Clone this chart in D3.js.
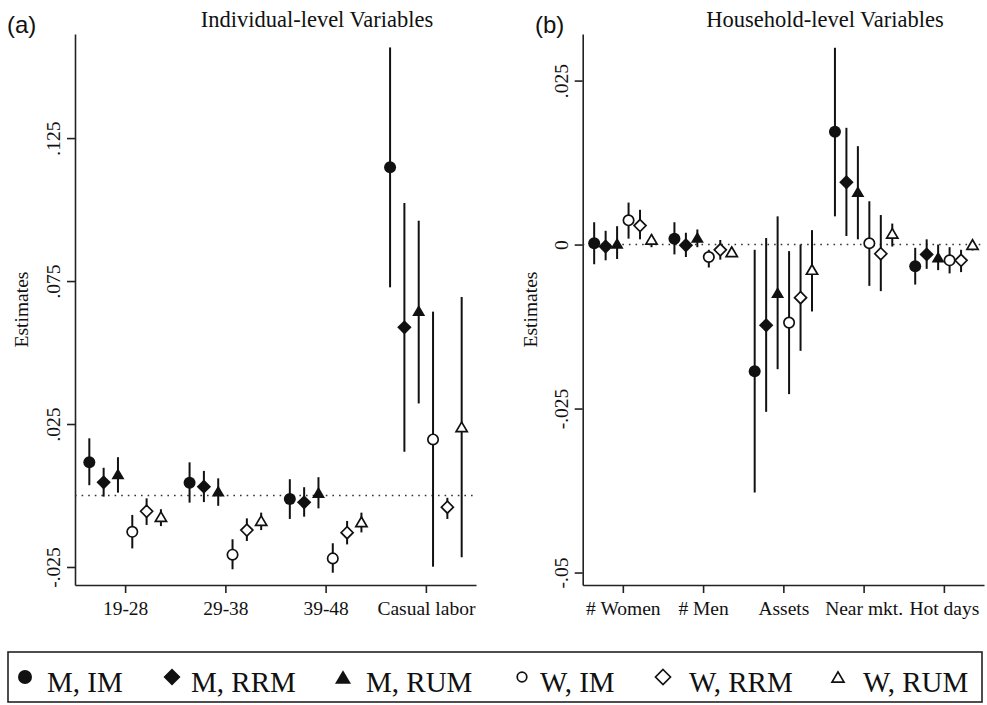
<!DOCTYPE html>
<meta charset="utf-8">
<script src="https://d3js.org/d3.v7.min.js"></script>
<style>
  body { margin: 0; background: #fff; }
  text { font-family: "Liberation Serif", "Times New Roman", serif; fill: #111; }
</style>
<div id="my_dataviz"></div>
<script>

// series (same order in every row below)
var seriesNames = ["M, IM", "M, RRM", "M, RUM", "W, IM", "W, RRM", "W, RUM"];

// panel (a): individual-level variables
var indCats = ["19-28", "29-38", "39-48", "Casual labor"];
var indEst = [
  [0.0116, 0.0046, 0.0076, -0.0127, -0.0055, -0.0074],
  [0.0045, 0.0031, 0.0016, -0.0207, -0.0121, -0.0088],
  [-0.0012, -0.0024, 0.0011, -0.0220, -0.0130, -0.0092],
  [0.1148, 0.0588, 0.0647, 0.0196, -0.0041, 0.0240]
];
var indLo = [
  [0.0036, -0.0004, 0.0010, -0.0185, -0.0103, -0.0107],
  [-0.0025, -0.0023, -0.0036, -0.0258, -0.0159, -0.0121],
  [-0.0082, -0.0074, -0.0045, -0.0270, -0.0171, -0.0129],
  [0.0728, 0.0153, 0.0322, -0.0249, -0.0082, -0.0216]
];
var indHi = [
  [0.0200, 0.0097, 0.0134, -0.0068, -0.0010, -0.0048],
  [0.0116, 0.0086, 0.0060, -0.0153, -0.0080, -0.0060],
  [0.0057, 0.0029, 0.0064, -0.0167, -0.0089, -0.0060],
  [0.1567, 0.1023, 0.0961, 0.0643, -0.0008, 0.0694]
];
var indTicks = [-0.025, 0.025, 0.075, 0.125];
var indTickLabels = ["-.025", ".025", ".075", ".125"];

// panel (b): household-level variables
var hhCats = ["# Women", "# Men", "Assets", "Near mkt.", "Hot days"];
var hhEst = [
  [0.0002, -0.0003, 0.0002, 0.0037, 0.0029, 0.0008],
  [0.0009, -0.0001, 0.0011, -0.0019, -0.0008, -0.0011],
  [-0.0193, -0.0123, -0.0073, -0.0119, -0.0081, -0.0038],
  [0.0172, 0.0095, 0.0081, 0.0002, -0.0014, 0.0017],
  [-0.0033, -0.0015, -0.0019, -0.0024, -0.0024, 0.0000]
];
var hhLo = [
  [-0.0030, -0.0024, -0.0022, 0.0009, 0.0008, -0.0004],
  [-0.0015, -0.0019, -0.0004, -0.0035, -0.0023, -0.0018],
  [-0.0378, -0.0255, -0.0190, -0.0228, -0.0162, -0.0102],
  [0.0043, 0.0013, 0.0008, -0.0063, -0.0071, -0.0003],
  [-0.0061, -0.0037, -0.0039, -0.0044, -0.0042, -0.0009]
];
var hhHi = [
  [0.0034, 0.0021, 0.0028, 0.0064, 0.0053, 0.0015],
  [0.0034, 0.0018, 0.0023, -0.0008, 0.0007, -0.0004],
  [-0.0008, 0.0010, 0.0043, -0.0010, 0.0000, 0.0022],
  [0.0300, 0.0178, 0.0150, 0.0066, 0.0045, 0.0032],
  [-0.0005, 0.0008, 0.0000, -0.0004, -0.0008, 0.0005]
];
var hhTicks = [-0.05, -0.025, 0, 0.025];
var hhTickLabels = ["-.05", "-.025", "0", ".025"];

var W = 987, H = 705;
var ink = "#111";

var svg = d3.select("#my_dataviz")
  .append("svg")
    .attr("width", W)
    .attr("height", H)
    .style("background", "#fff");

// marker shapes: 0 circle, 1 diamond, 2 triangle; series 3-5 are hollow
function markerPath(kind, s) {
  if (kind === 0) return d3.symbol().type(d3.symbolCircle).size(Math.PI * s * s)();
  if (kind === 1) return "M0," + (-s) + "L" + s + ",0L0," + s + "L" + (-s) + ",0Z";
  var h = s * 0.85;
  return "M0," + (-h) + "L" + s + "," + h + "L" + (-s) + "," + h + "Z";
}
var filledSize = [6, 7.2, 6.5];
var hollowSize = [5.2, 6, 5.6];

function drawPanel(o) {
  var x = d3.scaleLinear().domain([0.5, o.cats.length + 0.5]).range([o.left, o.right]);
  var y = d3.scaleLinear().domain(o.yDomain).range([585, 34]);
  var g = svg.append("g");

  // y axis
  var ya = g.append("g")
    .attr("transform", "translate(" + o.left + ",0)")
    .call(d3.axisLeft(y).tickValues(o.ticks).tickSize(8).tickSizeOuter(0)
      .tickFormat(function(d, i) { return o.tickLabels[i]; }));
  ya.selectAll("text")
    .attr("transform", "rotate(-90)")
    .attr("x", 0).attr("y", -15).attr("dy", 0)
    .attr("text-anchor", "middle")
    .style("font-size", "19.5px");

  // x axis
  var xa = g.append("g")
    .attr("transform", "translate(0,585)")
    .call(d3.axisBottom(x).tickValues(d3.range(1, o.cats.length + 1)).tickSize(8).tickSizeOuter(0)
      .tickFormat(function(d) { return o.cats[d - 1]; }));
  xa.selectAll("text")
    .attr("y", 30).attr("dy", 0)
    .style("font-size", "19.5px");

  [ya, xa].forEach(function(a) {
    a.select(".domain").attr("stroke", "#222").attr("stroke-width", 1.6);
    a.selectAll(".tick line").attr("stroke", "#222").attr("stroke-width", 1.6);
    a.selectAll("text").style("font-family", "'Liberation Serif', 'Times New Roman', serif").attr("fill", ink);
  });

  // zero reference line
  g.append("line")
    .attr("x1", o.left).attr("x2", o.right)
    .attr("y1", y(0)).attr("y2", y(0))
    .attr("stroke", "#333").attr("stroke-width", 1.6)
    .attr("stroke-dasharray", "1.6,5");

  // points and confidence intervals
  var pts = [];
  o.est.forEach(function(row, c) {
    row.forEach(function(v, s) {
      pts.push({ c: c + 1, s: s, v: v, lo: o.lo[c][s], hi: o.hi[c][s] });
    });
  });
  function px(d) { return x(d.c + (d.s - 2.5) / 7); }

  g.append("g").selectAll("line.ci")
    .data(pts)
    .enter()
    .append("line")
      .attr("x1", px).attr("x2", px)
      .attr("y1", function(d) { return y(d.lo); })
      .attr("y2", function(d) { return y(d.hi); })
      .attr("stroke", ink)
      .attr("stroke-width", 2);

  g.append("g").selectAll("path.mk")
    .data(pts)
    .enter()
    .append("path")
      .attr("transform", function(d) { return "translate(" + px(d) + "," + y(d.v) + ")"; })
      .attr("d", function(d) {
        var k = d.s % 3;
        return d.s < 3 ? markerPath(k, filledSize[k]) : markerPath(k, hollowSize[k]);
      })
      .attr("fill", function(d) { return d.s < 3 ? ink : "#fff"; })
      .attr("stroke", ink)
      .attr("stroke-width", function(d) { return d.s < 3 ? 0 : 1.7; });

  // title + panel letter
  g.append("text")
    .attr("x", o.titleX).attr("y", 27)
    .attr("text-anchor", "middle")
    .style("font-size", "22.5px")
    .text(o.title);
  g.append("text")
    .attr("x", o.letterX).attr("y", 33)
    .style("font-family", "'Liberation Sans', Arial, sans-serif")
    .style("font-size", "24px")
    .text(o.letter);

  // y title
  g.append("text")
    .attr("transform", "translate(" + o.yTitleX + "," + y.range().reduce(function(a, b) { return (a + b) / 2; }) + ") rotate(-90)")
    .attr("text-anchor", "middle")
    .style("font-size", "19.5px")
    .text("Estimates");
}

drawPanel({
  cats: indCats, est: indEst, lo: indLo, hi: indHi,
  ticks: indTicks, tickLabels: indTickLabels,
  yDomain: [-0.0313, 0.1614], left: 75, right: 476,
  title: "Individual-level Variables", titleX: 317, letter: "(a)", letterX: 7, yTitleX: 28
});

drawPanel({
  cats: hhCats, est: hhEst, lo: hhLo, hi: hhHi,
  ticks: hhTicks, tickLabels: hhTickLabels,
  yDomain: [-0.0519, 0.0321], left: 582.7, right: 984,
  title: "Household-level Variables", titleX: 825, letter: "(b)", letterX: 535, yTitleX: 537
});

// legend
var legendMarkX = [25, 172, 343, 522, 663, 838];
var legendTextX = [47, 191, 366, 540, 689, 863];
var legFilled = [7, 8.5, 8];
var legHollow = [4.8, 7.5, 6];

svg.append("rect")
  .attr("x", 8).attr("y", 652)
  .attr("width", 974).attr("height", 50)
  .attr("fill", "none")
  .attr("stroke", "#222")
  .attr("stroke-width", 1.6);

var leg = svg.append("g").selectAll("g")
  .data(seriesNames)
  .enter()
  .append("g");

leg.append("path")
  .attr("transform", function(d, i) { return "translate(" + legendMarkX[i] + ",677)"; })
  .attr("d", function(d, i) {
    var k = i % 3;
    return i < 3 ? markerPath(k, legFilled[k]) : markerPath(k, legHollow[k]);
  })
  .attr("fill", function(d, i) { return i < 3 ? ink : "#fff"; })
  .attr("stroke", ink)
  .attr("stroke-width", function(d, i) { return i < 3 ? 0 : 1.7; });

leg.append("text")
  .attr("x", function(d, i) { return legendTextX[i]; })
  .attr("y", 692)
  .style("font-size", "29px")
  .text(function(d) { return d; });

</script>
